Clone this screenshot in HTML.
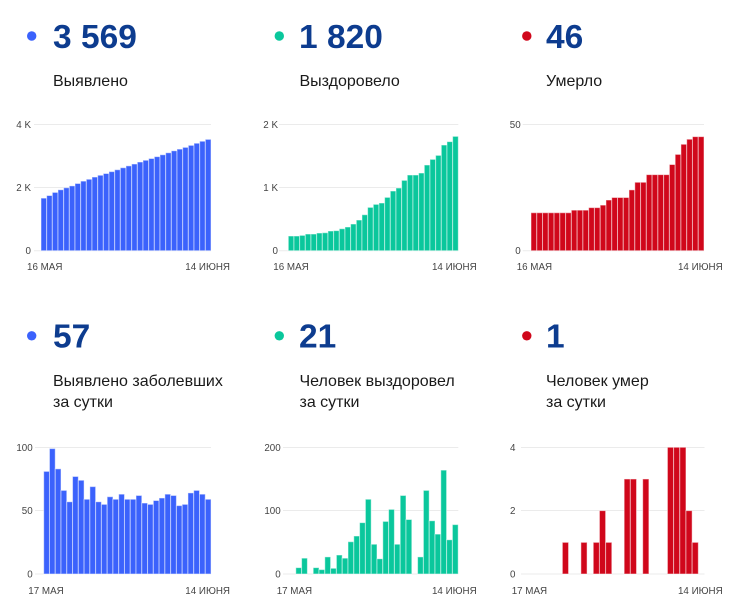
<!DOCTYPE html>
<html>
<head>
<meta charset="utf-8">
<style>
  html, body { margin:0; padding:0; background:#fff; }
  svg { display:block; }
  .num { font-family:"Liberation Sans", Arial, sans-serif; font-weight:bold; font-size:33.5px; fill:#0d3c8f; }
  .lbl { font-family:"Liberation Sans", Arial, sans-serif; font-size:16px; fill:#1a1a1a; }
  .tk { font-family:"Liberation Sans", Arial, sans-serif; font-size:9.8px; fill:#444; }
  .grid { stroke:#ebebeb; stroke-width:1; }
  .bars rect { stroke:#fff; stroke-opacity:0.5; stroke-width:1; vector-effect:non-scaling-stroke; }
</style>
</head>
<body>
<svg width="754" height="605" viewBox="0 0 754 605" xmlns="http://www.w3.org/2000/svg">
  <!-- Headers row 1 -->
  <circle cx="31.7" cy="36" r="4.7" fill="#3b62fc"/>
  <circle cx="279.3" cy="36" r="4.7" fill="#0ac79c"/>
  <circle cx="526.8" cy="36" r="4.7" fill="#d0071b"/>
  <text class="num" x="53" y="48">3 569</text>
  <text class="num" x="299" y="48">1 820</text>
  <text class="num" x="546" y="48">46</text>
  <text class="lbl" x="53" y="86">Выявлено</text>
  <text class="lbl" x="299.5" y="86">Выздоровело</text>
  <text class="lbl" x="546" y="86">Умерло</text>

  <!-- Headers row 2 -->
  <circle cx="31.7" cy="335.8" r="4.7" fill="#3b62fc"/>
  <circle cx="279.3" cy="335.8" r="4.7" fill="#0ac79c"/>
  <circle cx="526.8" cy="335.8" r="4.7" fill="#d0071b"/>
  <text class="num" x="53" y="347.5">57</text>
  <text class="num" x="299" y="347.5">21</text>
  <text class="num" x="546" y="347.5">1</text>
  <text class="lbl" x="53" y="386">Выявлено заболевших</text>
  <text class="lbl" x="53" y="407">за сутки</text>
  <text class="lbl" x="299.5" y="386">Человек выздоровел</text>
  <text class="lbl" x="299.5" y="407">за сутки</text>
  <text class="lbl" x="546" y="386">Человек умер</text>
  <text class="lbl" x="546" y="407">за сутки</text>

  <!-- ===== Top chart 1 ===== -->
  <line class="grid" x1="34" y1="124.5" x2="211" y2="124.5"/>
  <line class="grid" x1="34" y1="187.5" x2="211" y2="187.5"/>
  <line class="grid" x1="34" y1="250.7" x2="211" y2="250.7"/>
  <text class="tk" x="31" y="127.8" text-anchor="end">4 K</text>
  <text class="tk" x="31" y="191" text-anchor="end">2 K</text>
  <text class="tk" x="31" y="254.2" text-anchor="end">0</text>
  <g class="bars" fill="#3b62fc" transform="translate(41,250.7) scale(5.667,-0.031675)">
    <rect x="0" y="0" width="1" height="1660"/>
    <rect x="1" y="0" width="1" height="1741"/>
    <rect x="2" y="0" width="1" height="1840"/>
    <rect x="3" y="0" width="1" height="1923"/>
    <rect x="4" y="0" width="1" height="1989"/>
    <rect x="5" y="0" width="1" height="2046"/>
    <rect x="6" y="0" width="1" height="2123"/>
    <rect x="7" y="0" width="1" height="2197"/>
    <rect x="8" y="0" width="1" height="2256"/>
    <rect x="9" y="0" width="1" height="2325"/>
    <rect x="10" y="0" width="1" height="2382"/>
    <rect x="11" y="0" width="1" height="2437"/>
    <rect x="12" y="0" width="1" height="2498"/>
    <rect x="13" y="0" width="1" height="2557"/>
    <rect x="14" y="0" width="1" height="2620"/>
    <rect x="15" y="0" width="1" height="2679"/>
    <rect x="16" y="0" width="1" height="2738"/>
    <rect x="17" y="0" width="1" height="2800"/>
    <rect x="18" y="0" width="1" height="2856"/>
    <rect x="19" y="0" width="1" height="2911"/>
    <rect x="20" y="0" width="1" height="2969"/>
    <rect x="21" y="0" width="1" height="3029"/>
    <rect x="22" y="0" width="1" height="3092"/>
    <rect x="23" y="0" width="1" height="3154"/>
    <rect x="24" y="0" width="1" height="3208"/>
    <rect x="25" y="0" width="1" height="3263"/>
    <rect x="26" y="0" width="1" height="3327"/>
    <rect x="27" y="0" width="1" height="3393"/>
    <rect x="28" y="0" width="1" height="3456"/>
    <rect x="29" y="0" width="1" height="3515"/>
  </g>
  <text class="tk" x="27" y="270">16 МАЯ</text>
  <text class="tk" x="230" y="270" text-anchor="end">14 ИЮНЯ</text>

  <!-- ===== Top chart 2 ===== -->
  <line class="grid" x1="279" y1="124.5" x2="458.3" y2="124.5"/>
  <line class="grid" x1="279" y1="187.5" x2="458.3" y2="187.5"/>
  <line class="grid" x1="279" y1="250.7" x2="458.3" y2="250.7"/>
  <text class="tk" x="278" y="127.8" text-anchor="end">2 K</text>
  <text class="tk" x="278" y="191" text-anchor="end">1 K</text>
  <text class="tk" x="278" y="254.2" text-anchor="end">0</text>
  <g class="bars" fill="#0ac79c" transform="translate(288.3,250.7) scale(5.667,-0.06335)">
    <rect x="0" y="0" width="1" height="232"/>
    <rect x="1" y="0" width="1" height="232"/>
    <rect x="2" y="0" width="1" height="242"/>
    <rect x="3" y="0" width="1" height="263"/>
    <rect x="4" y="0" width="1" height="263"/>
    <rect x="5" y="0" width="1" height="279"/>
    <rect x="6" y="0" width="1" height="284"/>
    <rect x="7" y="0" width="1" height="311"/>
    <rect x="8" y="0" width="1" height="316"/>
    <rect x="9" y="0" width="1" height="347"/>
    <rect x="10" y="0" width="1" height="374"/>
    <rect x="11" y="0" width="1" height="421"/>
    <rect x="12" y="0" width="1" height="484"/>
    <rect x="13" y="0" width="1" height="568"/>
    <rect x="14" y="0" width="1" height="684"/>
    <rect x="15" y="0" width="1" height="732"/>
    <rect x="16" y="0" width="1" height="753"/>
    <rect x="17" y="0" width="1" height="842"/>
    <rect x="18" y="0" width="1" height="942"/>
    <rect x="19" y="0" width="1" height="989"/>
    <rect x="20" y="0" width="1" height="1111"/>
    <rect x="21" y="0" width="1" height="1195"/>
    <rect x="22" y="0" width="1" height="1195"/>
    <rect x="23" y="0" width="1" height="1226"/>
    <rect x="24" y="0" width="1" height="1353"/>
    <rect x="25" y="0" width="1" height="1442"/>
    <rect x="26" y="0" width="1" height="1505"/>
    <rect x="27" y="0" width="1" height="1668"/>
    <rect x="28" y="0" width="1" height="1721"/>
    <rect x="29" y="0" width="1" height="1805"/>
  </g>
  <text class="tk" x="273.3" y="270">16 МАЯ</text>
  <text class="tk" x="476.7" y="270" text-anchor="end">14 ИЮНЯ</text>

  <!-- ===== Top chart 3 ===== -->
  <line class="grid" x1="522.7" y1="124.5" x2="704" y2="124.5"/>
  <line class="grid" x1="522.7" y1="250.7" x2="704" y2="250.7"/>
  <text class="tk" x="520.7" y="127.8" text-anchor="end">50</text>
  <text class="tk" x="520.7" y="254.2" text-anchor="end">0</text>
  <g class="bars" fill="#d0071b" transform="translate(531,250.7) scale(5.767,-2.534)">
    <rect x="0" y="0" width="1" height="15"/>
    <rect x="1" y="0" width="1" height="15"/>
    <rect x="2" y="0" width="1" height="15"/>
    <rect x="3" y="0" width="1" height="15"/>
    <rect x="4" y="0" width="1" height="15"/>
    <rect x="5" y="0" width="1" height="15"/>
    <rect x="6" y="0" width="1" height="15"/>
    <rect x="7" y="0" width="1" height="16"/>
    <rect x="8" y="0" width="1" height="16"/>
    <rect x="9" y="0" width="1" height="16"/>
    <rect x="10" y="0" width="1" height="17"/>
    <rect x="11" y="0" width="1" height="17"/>
    <rect x="12" y="0" width="1" height="18"/>
    <rect x="13" y="0" width="1" height="20"/>
    <rect x="14" y="0" width="1" height="21"/>
    <rect x="15" y="0" width="1" height="21"/>
    <rect x="16" y="0" width="1" height="21"/>
    <rect x="17" y="0" width="1" height="24"/>
    <rect x="18" y="0" width="1" height="27"/>
    <rect x="19" y="0" width="1" height="27"/>
    <rect x="20" y="0" width="1" height="30"/>
    <rect x="21" y="0" width="1" height="30"/>
    <rect x="22" y="0" width="1" height="30"/>
    <rect x="23" y="0" width="1" height="30"/>
    <rect x="24" y="0" width="1" height="34"/>
    <rect x="25" y="0" width="1" height="38"/>
    <rect x="26" y="0" width="1" height="42"/>
    <rect x="27" y="0" width="1" height="44"/>
    <rect x="28" y="0" width="1" height="45"/>
    <rect x="29" y="0" width="1" height="45"/>
  </g>
  <text class="tk" x="516.7" y="270">16 МАЯ</text>
  <text class="tk" x="722.7" y="270" text-anchor="end">14 ИЮНЯ</text>

  <!-- ===== Bottom chart 1 ===== -->
  <line class="grid" x1="35" y1="447.5" x2="211" y2="447.5"/>
  <line class="grid" x1="35" y1="510.5" x2="211" y2="510.5"/>
  <line class="grid" x1="35" y1="574" x2="211" y2="574"/>
  <text class="tk" x="32.7" y="450.8" text-anchor="end">100</text>
  <text class="tk" x="32.7" y="513.8" text-anchor="end">50</text>
  <text class="tk" x="32.7" y="577.5" text-anchor="end">0</text>
  <g class="bars" fill="#3b62fc" transform="translate(43.7,574) scale(5.77,-1.267)">
    <rect x="0" y="0" width="1" height="81"/>
    <rect x="1" y="0" width="1" height="99"/>
    <rect x="2" y="0" width="1" height="83"/>
    <rect x="3" y="0" width="1" height="66"/>
    <rect x="4" y="0" width="1" height="57"/>
    <rect x="5" y="0" width="1" height="77"/>
    <rect x="6" y="0" width="1" height="74"/>
    <rect x="7" y="0" width="1" height="59"/>
    <rect x="8" y="0" width="1" height="69"/>
    <rect x="9" y="0" width="1" height="57"/>
    <rect x="10" y="0" width="1" height="55"/>
    <rect x="11" y="0" width="1" height="61"/>
    <rect x="12" y="0" width="1" height="59"/>
    <rect x="13" y="0" width="1" height="63"/>
    <rect x="14" y="0" width="1" height="59"/>
    <rect x="15" y="0" width="1" height="59"/>
    <rect x="16" y="0" width="1" height="62"/>
    <rect x="17" y="0" width="1" height="56"/>
    <rect x="18" y="0" width="1" height="55"/>
    <rect x="19" y="0" width="1" height="58"/>
    <rect x="20" y="0" width="1" height="60"/>
    <rect x="21" y="0" width="1" height="63"/>
    <rect x="22" y="0" width="1" height="62"/>
    <rect x="23" y="0" width="1" height="54"/>
    <rect x="24" y="0" width="1" height="55"/>
    <rect x="25" y="0" width="1" height="64"/>
    <rect x="26" y="0" width="1" height="66"/>
    <rect x="27" y="0" width="1" height="63"/>
    <rect x="28" y="0" width="1" height="59"/>
  </g>
  <text class="tk" x="28.3" y="594">17 МАЯ</text>
  <text class="tk" x="230" y="594" text-anchor="end">14 ИЮНЯ</text>

  <!-- ===== Bottom chart 2 ===== -->
  <line class="grid" x1="283" y1="447.5" x2="458.3" y2="447.5"/>
  <line class="grid" x1="283" y1="510.5" x2="458.3" y2="510.5"/>
  <line class="grid" x1="283" y1="574" x2="458.3" y2="574"/>
  <text class="tk" x="280.7" y="450.8" text-anchor="end">200</text>
  <text class="tk" x="280.7" y="513.8" text-anchor="end">100</text>
  <text class="tk" x="280.7" y="577.5" text-anchor="end">0</text>
  <g class="bars" fill="#0ac79c" transform="translate(290,574) scale(5.8,-0.6335)">
    <rect x="1" y="0" width="1" height="10"/>
    <rect x="2" y="0" width="1" height="25"/>
    <rect x="4" y="0" width="1" height="10"/>
    <rect x="5" y="0" width="1" height="7"/>
    <rect x="6" y="0" width="1" height="27"/>
    <rect x="7" y="0" width="1" height="9"/>
    <rect x="8" y="0" width="1" height="30"/>
    <rect x="9" y="0" width="1" height="25"/>
    <rect x="10" y="0" width="1" height="51"/>
    <rect x="11" y="0" width="1" height="60"/>
    <rect x="12" y="0" width="1" height="81"/>
    <rect x="13" y="0" width="1" height="118"/>
    <rect x="14" y="0" width="1" height="47"/>
    <rect x="15" y="0" width="1" height="24"/>
    <rect x="16" y="0" width="1" height="83"/>
    <rect x="17" y="0" width="1" height="102"/>
    <rect x="18" y="0" width="1" height="47"/>
    <rect x="19" y="0" width="1" height="124"/>
    <rect x="20" y="0" width="1" height="86"/>
    <rect x="22" y="0" width="1" height="27"/>
    <rect x="23" y="0" width="1" height="132"/>
    <rect x="24" y="0" width="1" height="84"/>
    <rect x="25" y="0" width="1" height="63"/>
    <rect x="26" y="0" width="1" height="164"/>
    <rect x="27" y="0" width="1" height="54"/>
    <rect x="28" y="0" width="1" height="78"/>
  </g>
  <text class="tk" x="276.7" y="594">17 МАЯ</text>
  <text class="tk" x="476.7" y="594" text-anchor="end">14 ИЮНЯ</text>

  <!-- ===== Bottom chart 3 ===== -->
  <line class="grid" x1="521" y1="447.5" x2="704.5" y2="447.5"/>
  <line class="grid" x1="521" y1="510.5" x2="704.5" y2="510.5"/>
  <line class="grid" x1="521" y1="574" x2="704.5" y2="574"/>
  <text class="tk" x="515.5" y="450.8" text-anchor="end">4</text>
  <text class="tk" x="515.5" y="513.8" text-anchor="end">2</text>
  <text class="tk" x="515.5" y="577.5" text-anchor="end">0</text>
  <g class="bars" fill="#d0071b" transform="translate(519.1,574) scale(6.18,-31.675)">
    <rect x="7" y="0" width="1" height="1"/>
    <rect x="10" y="0" width="1" height="1"/>
    <rect x="12" y="0" width="1" height="1"/>
    <rect x="13" y="0" width="1" height="2"/>
    <rect x="14" y="0" width="1" height="1"/>
    <rect x="17" y="0" width="1" height="3"/>
    <rect x="18" y="0" width="1" height="3"/>
    <rect x="20" y="0" width="1" height="3"/>
    <rect x="24" y="0" width="1" height="4"/>
    <rect x="25" y="0" width="1" height="4"/>
    <rect x="26" y="0" width="1" height="4"/>
    <rect x="27" y="0" width="1" height="2"/>
    <rect x="28" y="0" width="1" height="1"/>
  </g>
  <text class="tk" x="511.7" y="594">17 МАЯ</text>
  <text class="tk" x="722.7" y="594" text-anchor="end">14 ИЮНЯ</text>
</svg>
</body>
</html>
